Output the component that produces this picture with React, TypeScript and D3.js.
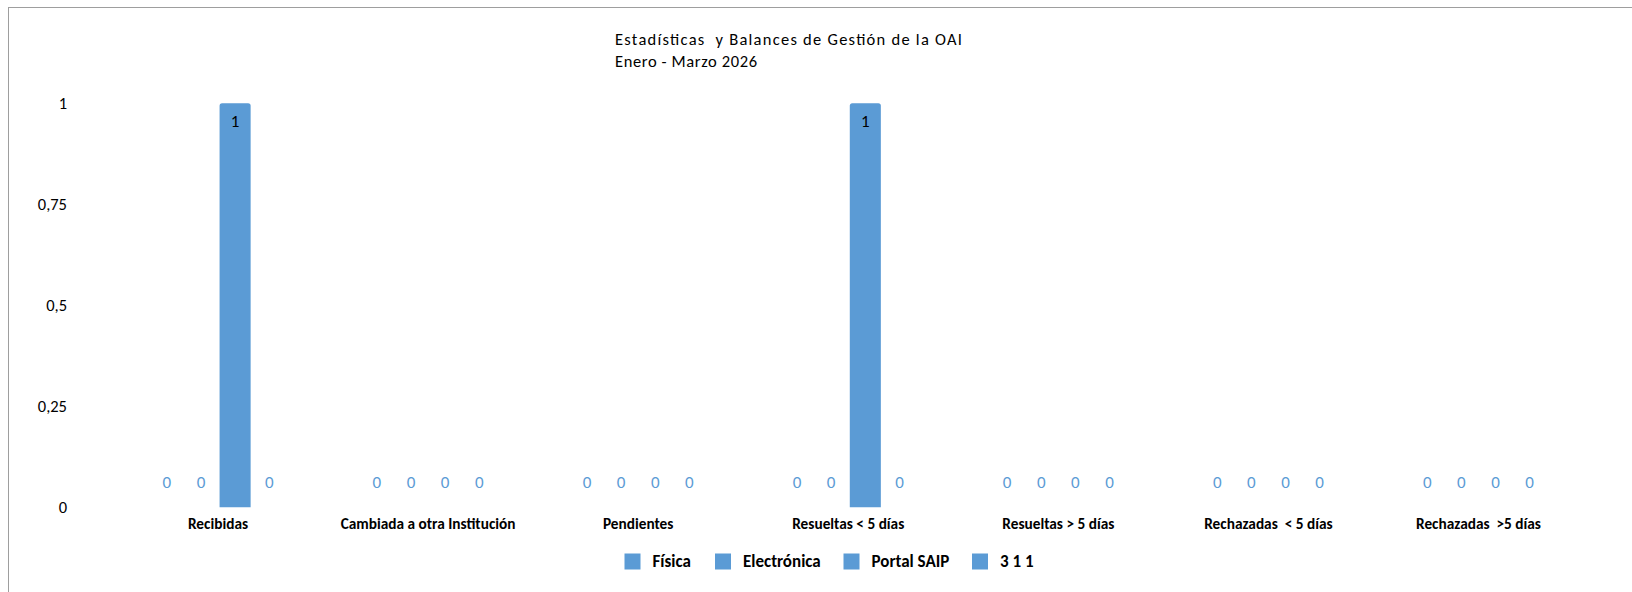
import React from "react";
import * as d3 from "d3";

const categories = [
  "Recibidas",
  "Cambiada a otra Institución",
  "Pendientes",
  "Resueltas < 5 días",
  "Resueltas > 5 días",
  "Rechazadas  < 5 días",
  "Rechazadas  >5 días",
];
const seriesNames = ["Física", "Electrónica", "Portal SAIP", "3 1 1"];
const fisica = [0, 0, 0, 0, 0, 0, 0];
const electronica = [0, 0, 0, 0, 0, 0, 0];
const portalSaip = [1, 0, 0, 1, 0, 0, 0];
const tres11 = [0, 0, 0, 0, 0, 0, 0];
const yTicks = [0, 0.25, 0.5, 0.75, 1];
const yTickLabels = ["0", "0,25", "0,5", "0,75", "1"];
const titleLines = ["Estadísticas  y Balances de Gestión de la OAI", "Enero - Marzo 2026"];

const W = 1632;
const H = 592;
const BAR = "#5B9BD5";
const FONT = "Calibri, Carlito, Lato, sans-serif";

export default function App() {
  const seriesValues = [fisica, electronica, portalSaip, tres11];
  const x0 = d3.scaleBand<string>().domain(categories).range([113, 1583.5]).paddingInner(0.35).paddingOuter(0.175);
  const x1 = d3.scaleBand<string>().domain(seriesNames).range([0, x0.bandwidth()]).paddingInner(0.09).paddingOuter(0.045);
  const y = d3.scaleLinear().domain([0, 1]).range([507.3, 103.3]);
  const r = 2.5;

  const barPath = (x: number, w: number, top: number, bottom: number) => {
    const p = d3.path();
    p.moveTo(x, bottom);
    p.lineTo(x, top + r);
    p.quadraticCurveTo(x, top, x + r, top);
    p.lineTo(x + w - r, top);
    p.quadraticCurveTo(x + w, top, x + w, top + r);
    p.lineTo(x + w, bottom);
    p.closePath();
    return p.toString();
  };

  const legendX = [624.5, 715, 843.5, 972];

  return (
    <svg width={W} height={H} style={{ position: "absolute", left: 0, top: 0, background: "#fff" }} fontFamily={FONT}>
      <rect x={0} y={0} width={W} height={H} fill="#fff" />
      <line x1={8.5} y1={7.5} x2={8.5} y2={H} stroke="#9e9e9e" strokeWidth={1} />
      <line x1={8} y1={7.5} x2={W} y2={7.5} stroke="#9e9e9e" strokeWidth={1} />

      <text x={615} y={45} fontSize={16.5} fill="#000" textLength={347} lengthAdjust="spacing" style={{ whiteSpace: "pre" }}>{titleLines[0]}</text>
      <text x={615} y={66.7} fontSize={16.5} fill="#000" textLength={142} lengthAdjust="spacing">{titleLines[1]}</text>

      {yTicks.map((t, i) => (
        <text key={t} x={67} y={y(t)} dy="0.35em" textAnchor="end" fontSize={16.5} fill="#000">{yTickLabels[i]}</text>
      ))}

      {categories.map((c, ci) => (
        <g key={c}>
          {seriesNames.map((s, si) => {
            const v = seriesValues[si][ci];
            const bx = (x0(c) as number) + (x1(s) as number);
            const bw = x1.bandwidth();
            const cx = bx + bw / 2;
            return (
              <g key={s}>
                {v > 0 && <path d={barPath(bx, bw, y(v), y(0))} fill={BAR} />}
                {v > 0 ? (
                  <text x={cx} y={y(v) + 18} dy="0.35em" textAnchor="middle" fontSize={17} fill="#000">{v}</text>
                ) : (
                  <text x={cx} y={y(0) - 25.6} dy="0.35em" textAnchor="middle" fontSize={17} fill={BAR}>{v}</text>
                )}
              </g>
            );
          })}
          <text x={(x0(c) as number) + x0.bandwidth() / 2} y={528.7} textAnchor="middle" fontSize={15.3} fontWeight="bold" fill="#000" style={{ whiteSpace: "pre" }}>{c}</text>
        </g>
      ))}

      {seriesNames.map((s, i) => (
        <g key={s}>
          <rect x={legendX[i]} y={553.5} width={16} height={16} fill={BAR} />
          <text x={legendX[i] + 28} y={566.7} fontSize={17} fontWeight="bold" fill="#000">{s}</text>
        </g>
      ))}
    </svg>
  );
}
